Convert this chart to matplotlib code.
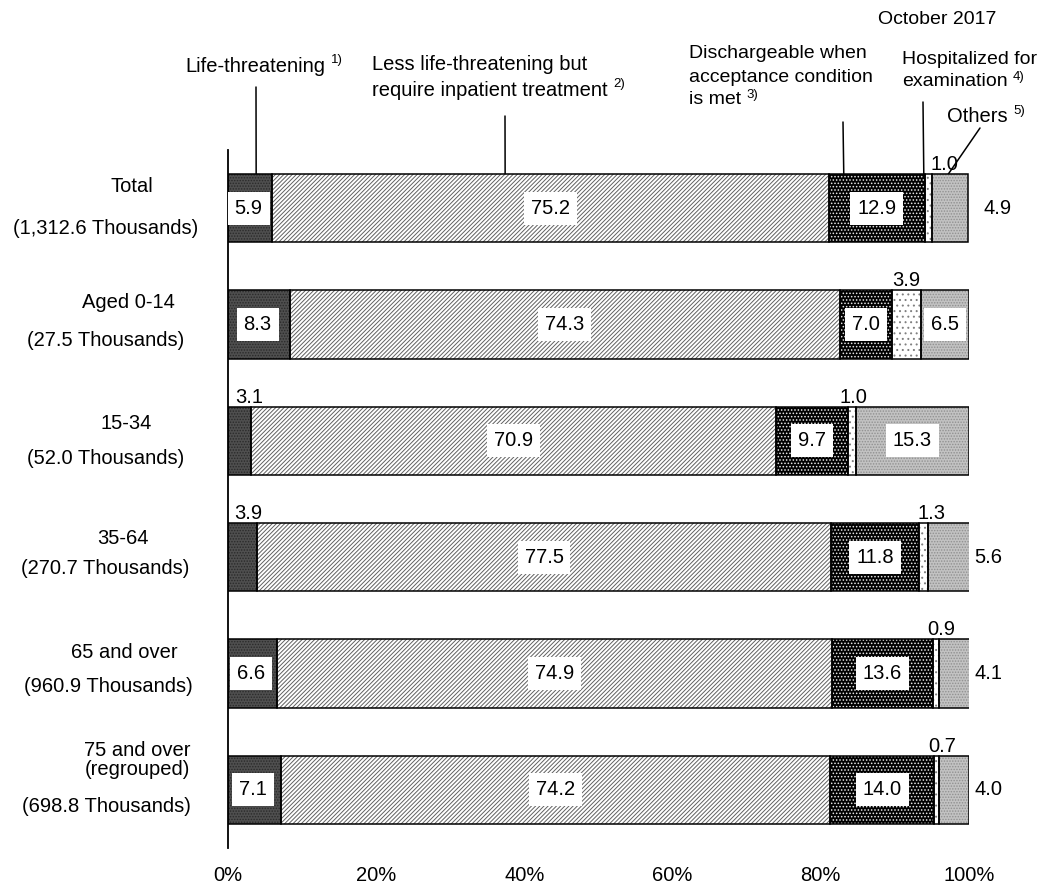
import matplotlib
matplotlib.use('Agg')
import matplotlib.pyplot as plt

plt.rcParams['font.family'] = ['Liberation Sans', 'DejaVu Sans']
plt.rcParams['hatch.linewidth'] = 0.7

# ---------------- data ----------------
categories = ['Total', 'Aged 0-14', '15-34', '35-64', '65 and over', '75 and over\n(regrouped)']
thousands = ['(1,312.6 Thousands)', '(27.5 Thousands)', '(52.0 Thousands)',
             '(270.7 Thousands)', '(960.9 Thousands)', '(698.8 Thousands)']
life = [5.9, 8.3, 3.1, 3.9, 6.6, 7.1]
less = [75.2, 74.3, 70.9, 77.5, 74.9, 74.2]
disch = [12.9, 7.0, 9.7, 11.8, 13.6, 14.0]
hosp = [1.0, 3.9, 1.0, 1.3, 0.9, 0.7]
others = [4.9, 6.5, 15.3, 5.6, 4.1, 4.0]
xticks = [0, 20, 40, 60, 80, 100]
xtick_labels = ['0%', '20%', '40%', '60%', '80%', '100%']

# ---------------- layout ----------------
W, H = 1048, 884
fig = plt.figure(figsize=(W / 100, H / 100), dpi=100)
ax = fig.add_axes([228 / W, 1 - 848 / H, (969 - 228) / W, (848 - 150) / H])

FS = 14.5
bar_h = 0.585
n = len(categories)
ypos = list(range(n))

series = [life, less, disch, hosp, others]
styles = [
    dict(face='#4f4f4f', hatch='......', hcol='#2a2a2a'),
    dict(face='white', hatch='////////', hcol='#606060'),
    dict(face='black', hatch='.....', hcol='#e8e8e8'),
    dict(face='white', hatch='...', hcol='#808080'),
    dict(face='#c2c2c2', hatch='......', hcol='#909090'),
]

lefts = [0.0] * n
seg_lefts = []
for vals, st in zip(series, styles):
    ax.barh(ypos, vals, left=lefts, height=bar_h, color=st['face'],
            edgecolor=st['hcol'], hatch=st['hatch'], linewidth=0, zorder=2)
    ax.barh(ypos, vals, left=lefts, height=bar_h, fill=False,
            edgecolor='black', linewidth=1.1, zorder=3)
    seg_lefts.append(list(lefts))
    lefts = [l + v for l, v in zip(lefts, vals)]

box = dict(facecolor='white', edgecolor='none', boxstyle='square,pad=0.34')


def inside(x, y, v):
    ax.text(x, y, f'{v:.1f}', ha='center', va='center', fontsize=FS,
            bbox=box, zorder=5)


def above(x, y, v, dx=0):
    ax.annotate(f'{v:.1f}', xy=(x, y - bar_h / 2), xytext=(dx * 0.72, 0),
                textcoords='offset points', ha='center', va='bottom',
                fontsize=FS, annotation_clip=False)


life_inside = [True, True, False, False, True, True]
others_inside = [False, True, True, False, False, False]
hosp_dx = [16, 0, 2, 8, 5, 5]
right_x = [101.9, 100.7, 100.7, 100.7, 100.7, 100.7]

for i in range(n):
    y = ypos[i]
    if life_inside[i]:
        inside(life[i] / 2 - 0.15, y, life[i])
    else:
        above(2.8, y, life[i])
    inside(seg_lefts[1][i] + less[i] / 2, y, less[i])
    inside(seg_lefts[2][i] + disch[i] / 2, y, disch[i])
    above(seg_lefts[3][i] + hosp[i] / 2, y, hosp[i], hosp_dx[i])
    if others_inside[i]:
        inside(seg_lefts[4][i] + others[i] / 2, y, others[i])
    else:
        ax.text(right_x[i], y, f'{others[i]:.1f}', ha='left', va='center',
                fontsize=FS, clip_on=False)

ax.set_xlim(0, 100)
ax.set_ylim(n - 0.5, -0.5)
ax.set_xticks(xticks)
ax.set_xticklabels(xtick_labels, fontsize=14.5)
ax.tick_params(axis='x', length=0, pad=13)
ax.set_yticks([])
for s in ['top', 'right', 'bottom']:
    ax.spines[s].set_visible(False)
ax.spines['left'].set_linewidth(1.3)

# ---------------- category labels (figure pixels) ----------------
name_pos = [(132, 186), (128, 303), (126, 423), (123, 538), (124, 653), (137, 760)]
th_pos = [(106, 228), (106, 340), (106, 458), (105, 568), (108, 687), (106, 807)]
for i in range(n):
    x, y = name_pos[i]
    fig.text(x / W, 1 - y / H, categories[i], ha='center', va='center',
             fontsize=FS, linespacing=1.05)
    x, y = th_pos[i]
    fig.text(x / W, 1 - y / H, thousands[i], ha='center', va='center', fontsize=FS)


# ---------------- top legend labels ----------------
def label(lines, x, ys, sup, fs=FS):
    t = None
    for line, y in zip(lines, ys):
        t = fig.text(x / W, 1 - y / H, line, ha='left', va='center', fontsize=fs)
    ax.annotate(sup, xy=(1, 1), xycoords=t, xytext=(4, 2),
                textcoords='offset points', ha='left', va='top', fontsize=9.5)


label(['Life-threatening'], 185, [66], '1)')
label(['Less life-threatening but', 'require inpatient treatment'], 372, [65, 90], '2)')
label(['Dischargeable when', 'acceptance condition', 'is met'], 689, [54, 77, 100], '3)', 14)
label(['Hospitalized for', 'examination'], 902, [59, 82], '4)', 14)
label(['Others'], 947, [117], '5)')
fig.text(878 / W, 1 - 20 / H, 'October 2017', ha='left', va='center', fontsize=14)

top0 = ypos[0] - bar_h / 2
leaders = [(3.8, 256, 87), (37.4, 505, 116), (83.1, 843, 122), (93.9, 923, 102), (97.2, 980, 128)]
for xd, px, py in leaders:
    ax.annotate('', xy=(xd, top0), xycoords='data',
                xytext=(px / W, 1 - py / H), textcoords='figure fraction',
                arrowprops=dict(arrowstyle='-', lw=1.1, color='black',
                                shrinkA=0, shrinkB=0),
                annotation_clip=False, zorder=1)

fig.savefig('out.png', dpi=100)
